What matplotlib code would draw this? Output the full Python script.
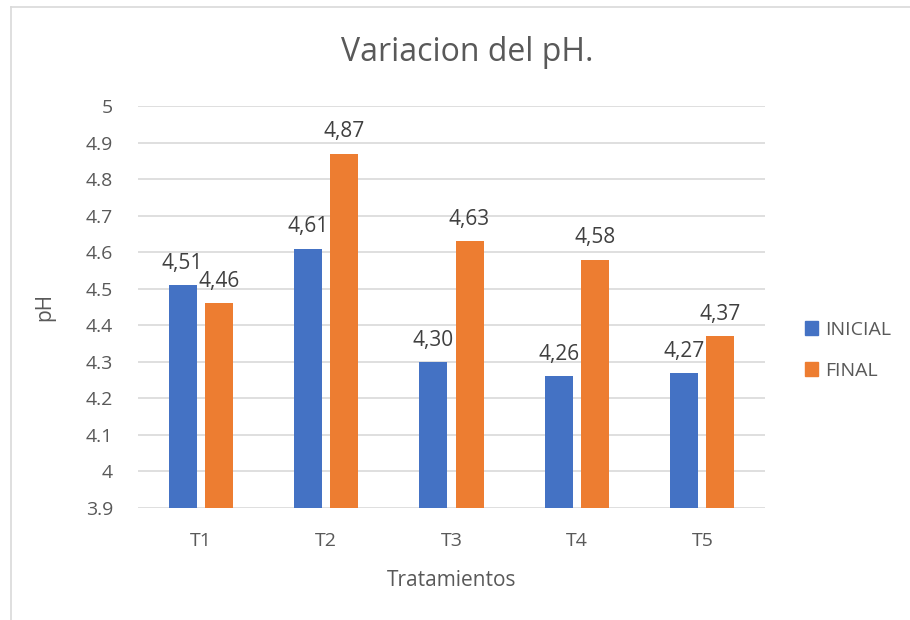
import matplotlib.pyplot as plt
import numpy as np
from matplotlib.lines import Line2D
from matplotlib.patches import Patch

# data
tratamientos = ["T1", "T2", "T3", "T4", "T5"]
inicial = [4.51, 4.61, 4.30, 4.26, 4.27]
final = [4.46, 4.87, 4.63, 4.58, 4.37]

azul = "#4472C4"
naranja = "#ED7D31"
gris_txt = "#595959"

plt.rcParams['font.family'] = ['Open Sans', 'DejaVu Sans']

fig = plt.figure(figsize=(9.1, 6.2), dpi=100, facecolor="white")
ax = fig.add_axes([0.1516, 0.1806, 0.6891, 0.6484])

x = np.arange(len(tratamientos))
w = 0.223
off = 0.144
ax.bar(x - off, [v - 3.9 for v in inicial], w, bottom=3.9, color=azul, zorder=3)
ax.bar(x + off, [v - 3.9 for v in final], w, bottom=3.9, color=naranja, zorder=3)

# data labels with comma decimal
for xi, v in zip(x - off, inicial):
    ax.annotate(f"{v:.2f}".replace(".", ","), (xi, v), xytext=(0, 8), textcoords="offset points",
                ha="center", va="bottom", fontsize=15, color="#404040")
for xi, v in zip(x + off, final):
    ax.annotate(f"{v:.2f}".replace(".", ","), (xi, v), xytext=(0, 8), textcoords="offset points",
                ha="center", va="bottom", fontsize=15, color="#404040")

ax.set_xlim(-0.5, 4.5)
ax.set_ylim(3.9, 5.0)
ticks = np.round(np.arange(3.9, 5.01, 0.1), 1)
ax.set_yticks(ticks)
ax.set_yticklabels([f"{t:g}" for t in ticks])
ax.set_xticks(x)
ax.set_xticklabels(tratamientos)
ax.grid(axis="y", color="#D9D9D9", linewidth=1.2, zorder=0)
for s in ax.spines.values():
    s.set_visible(False)
ax.tick_params(length=0, labelsize=14, colors=gris_txt)
ax.tick_params(axis="y", pad=18)
ax.tick_params(axis="x", pad=17)

ax.set_xlabel("Tratamientos", fontsize=15, color=gris_txt, labelpad=15)
ax.set_ylabel("pH", fontsize=15, color=gris_txt, labelpad=22)
fig.text(0.514, 0.916, "Variacion del pH.", ha="center", va="center", fontsize=23, color=gris_txt)

# legend
handles = [Patch(color=azul, label="INICIAL"), Patch(color=naranja, label="FINAL")]
fig.legend(handles=handles, loc="center left", bbox_to_anchor=(0.865, 0.435), frameon=False,
           fontsize=14, labelcolor=gris_txt, handlelength=0.7, handleheight=0.7,
           handletextpad=0.35, labelspacing=1.2)

# chart border (left and top)
fig.add_artist(Line2D([0.012, 0.012], [0.0, 0.989], color="#D9D9D9", linewidth=1.2))
fig.add_artist(Line2D([0.012, 1.0], [0.989, 0.989], color="#D9D9D9", linewidth=1.2))

fig.savefig("out.png", dpi=100, facecolor="white")
